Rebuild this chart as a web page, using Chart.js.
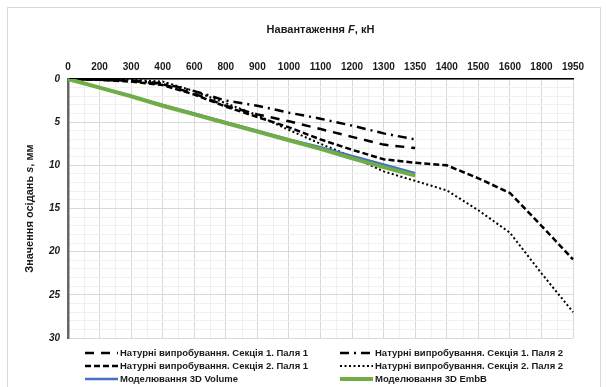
<!DOCTYPE html>
<html>
<head>
<meta charset="utf-8">
<script src="https://cdn.jsdelivr.net/npm/chart.js@4"></script>
<style>
  body { margin: 0; background: #fff; }
  .frame { position: absolute; left: 7px; top: 7px; width: 592px; height: 400px; border: 1px solid #d9d9d9; }
  #wrap { position: absolute; left: 0; top: 0; width: 606px; height: 387px; }
</style>
</head>
<body>
<div class="frame"></div>
<div id="wrap"><canvas id="chart" width="606" height="387"></canvas></div>
<script>
// load steps, kN (shown as categories)
const loads = ['0', '200', '300', '400', '600', '800', '900', '1000', '1100', '1200', '1300', '1350', '1400', '1500', '1600', '1800', '1950'];

// settlement s, mm
const sec1Pile1 = [0, 0.1, 0.2, 0.6, 1.7, 3.1, 4.1, 4.9, 5.8, 6.7, 7.6, 8.0];
const sec1Pile2 = [0, 0.1, 0.2, 0.5, 1.4, 2.5, 3.1, 3.9, 4.6, 5.4, 6.3, 7.0];
const sec2Pile1 = [0, 0.1, 0.3, 0.7, 1.8, 3.2, 4.4, 5.6, 7.0, 8.2, 9.3, 9.7, 10.0, 11.5, 13.2, 17.0, 20.9];
const sec2Pile2 = [0, 0.0, 0.1, 0.3, 1.4, 2.8, 4.2, 5.9, 7.5, 9.0, 10.7, 11.8, 12.9, 15.2, 17.8, 22.5, 27.0];
const model3dVolume = [0, 1.0, 2.0, 3.0, 4.0, 5.0, 6.0, 7.0, 7.9, 8.9, 9.9, 10.9];
const model3dEmbB = [0, 1.0, 2.0, 3.1, 4.1, 5.1, 6.1, 7.1, 8.1, 9.2, 10.2, 11.2];

const yMax = 30;
const yMajorStep = 5;

const FONT = '"Liberation Sans", Arial, sans-serif';

function drawRuns(ctx, runs, cx, cy) {
  let total = 0;
  runs.forEach(r => { ctx.font = r[1] + ' ' + FONT; total += ctx.measureText(r[0]).width; });
  let x = cx - total / 2;
  runs.forEach(r => {
    ctx.font = r[1] + ' ' + FONT;
    ctx.fillText(r[0], x, cy);
    x += ctx.measureText(r[0]).width;
  });
}

// minor vertical grid between categories
const minorGrid = {
  id: 'minorGrid',
  beforeDraw(chart) {
    const { ctx, chartArea, scales } = chart;
    ctx.save();
    ctx.strokeStyle = '#efefef';
    ctx.lineWidth = 1;
    for (let i = 0; i < loads.length - 1; i++) {
      const x = Math.round(scales.x.getPixelForValue(i + 0.5)) + 0.5;
      ctx.beginPath();
      ctx.moveTo(x, chartArea.top);
      ctx.lineTo(x, chartArea.bottom);
      ctx.stroke();
    }
    ctx.restore();
  }
};

// axis titles with italic symbols + two-column legend
const titlesAndLegend = {
  id: 'titlesAndLegend',
  afterDraw(chart) {
    const { ctx, chartArea } = chart;
    ctx.save();
    ctx.fillStyle = '#1a1a1a';
    ctx.textBaseline = 'middle';
    drawRuns(ctx, [['Навантаження ', 'bold 11px'], ['F', 'bold italic 11px'], [', кН', 'bold 11px']],
      (chartArea.left + chartArea.right) / 2, 30);

    ctx.save();
    ctx.translate(30, (chartArea.top + chartArea.bottom) / 2);
    ctx.rotate(-Math.PI / 2);
    drawRuns(ctx, [['Значення осідань ', 'bold 11px'], ['s', 'bold italic 11px'], [', мм', 'bold 11px']], 0, 0);
    ctx.restore();

    const colX = [85, 340];
    const rowY = [353, 366, 379];
    chart.data.datasets.forEach((ds, i) => {
      const x0 = colX[i % 2];
      const y = rowY[Math.floor(i / 2)];
      ctx.save();
      ctx.strokeStyle = ds.borderColor;
      ctx.lineWidth = ds.borderWidth;
      ctx.setLineDash(ds.borderDash || []);
      ctx.beginPath();
      ctx.moveTo(x0, y);
      ctx.lineTo(x0 + 33, y);
      ctx.stroke();
      ctx.restore();
      ctx.font = 'bold 9.5px ' + FONT;
      ctx.textAlign = 'left';
      ctx.fillText(ds.label, x0 + 35, y);
    });
    ctx.restore();
  }
};

const ctx = document.getElementById('chart').getContext('2d');
new Chart(ctx, {
  type: 'line',
  data: {
    labels: loads,
    datasets: [
      { label: 'Натурні випробування. Секція 1. Паля 1', data: sec1Pile1, borderColor: '#000', borderWidth: 2.5, borderDash: [9, 7], order: 6 },
      { label: 'Натурні випробування. Секція 1. Паля 2', data: sec1Pile2, borderColor: '#000', borderWidth: 2.5, borderDash: [9, 5, 2, 5], order: 5 },
      { label: 'Натурні випробування. Секція 2. Паля 1', data: sec2Pile1, borderColor: '#000', borderWidth: 2.5, borderDash: [6, 3], order: 4 },
      { label: 'Натурні випробування. Секція 2. Паля 2', data: sec2Pile2, borderColor: '#000', borderWidth: 2, borderDash: [2, 2.5], order: 3 },
      { label: 'Моделювання 3D Volume', data: model3dVolume, borderColor: '#4472c4', borderWidth: 2.5, order: 2 },
      { label: 'Моделювання 3D EmbB', data: model3dEmbB, borderColor: '#70ad47', borderWidth: 4, order: 1 }
    ]
  },
  options: {
    responsive: false,
    animation: false,
    layout: { padding: { top: 40, left: 0, right: 33, bottom: 49 } },
    elements: { point: { radius: 0 }, line: { tension: 0, fill: false, borderCapStyle: 'butt' } },
    plugins: { legend: { display: false }, tooltip: { enabled: false } },
    scales: {
      x: {
        position: 'top',
        afterFit: s => { s.height = 39; },
        grid: { color: '#d9d9d9', drawTicks: false },
        border: { color: '#000', width: 1.5 },
        ticks: { autoSkip: false, maxRotation: 0, padding: 6, color: '#1a1a1a', font: { family: FONT, size: 10, weight: 'bold' } }
      },
      y: {
        reverse: true,
        min: 0,
        max: yMax,
        afterFit: s => { s.width = 68; },
        grid: {
          drawTicks: false,
          color: c => (c.tick.value % yMajorStep === 0 ? '#d9d9d9' : '#f0f0f0')
        },
        border: { color: '#666', width: 2.5 },
        ticks: {
          stepSize: 1,
          autoSkip: false,
          padding: 8,
          color: '#1a1a1a',
          font: { family: FONT, size: 10, weight: 'bold', style: 'italic' },
          callback: v => (v % yMajorStep === 0 ? v : '')
        }
      }
    }
  },
  plugins: [minorGrid, titlesAndLegend]
});
</script>
</body>
</html>
